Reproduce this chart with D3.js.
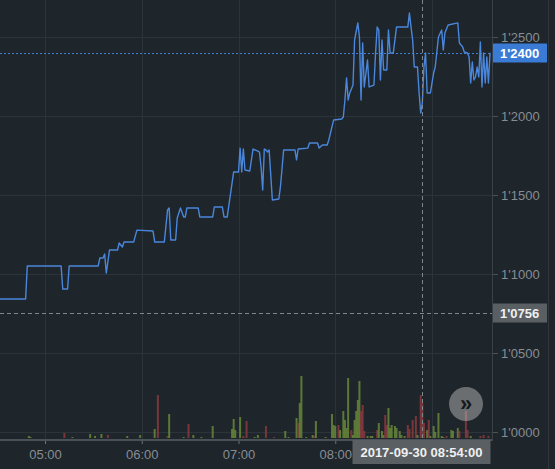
<!DOCTYPE html>
<html>
<head>
<meta charset="utf-8">
<script src="https://cdn.jsdelivr.net/npm/d3@7"></script>
<style>
  body { margin: 0; background: #1e252b; }
  svg { display: block; }
</style>
</head>
<body>
<script>
// price series (time of day, price)
let times = ["04:32","04:48","04:49","05:10","05:11","05:14","05:15","05:33","05:34","05:36",
  "05:37","05:38","05:40","05:45","05:46","05:48","05:49","05:55","05:57","06:07",
  "06:08","06:14","06:16","06:17","06:18","06:21","06:22","06:24","06:26","06:27",
  "06:28","06:35","06:36","06:44","06:45","06:50","06:51","06:53","06:57","07:00",
  "07:01","07:02","07:03","07:04","07:07","07:09","07:12","07:13","07:14","07:15",
  "07:16","07:17","07:18","07:19","07:21","07:25","07:26","07:28","07:35","07:36",
  "07:37","07:43","07:44","07:49","07:50","07:52","07:55","07:56","07:59","08:04",
  "08:05","08:06","08:07","08:08","08:09","08:11","08:12","08:14","08:15","08:16",
  "08:17","08:18","08:20","08:21","08:24","08:25","08:26","08:27","08:28","08:29",
  "08:30","08:32","08:33","08:34","08:36","08:38","08:45","08:46","08:47","08:48",
  "08:49","08:51","08:52","08:53","08:54","08:55","08:56","08:57","08:59","09:01",
  "09:02","09:04","09:06","09:07","09:08","09:10","09:16","09:17","09:19","09:20",
  "09:22","09:23","09:24","09:25","09:26","09:27","09:28","09:29","09:30","09:31",
  "09:32","09:33","09:34","09:35","09:36"];
let prices = [10842,10842,11051,11051,10905,10905,11051,11051,11101,11101,
  11127,11006,11152,11152,11196,11171,11203,11203,11278,11272,
  11203,11203,11405,11418,11215,11215,11354,11418,11361,11361,
  11418,11418,11361,11361,11424,11424,11361,11361,11646,11646,
  11797,11646,11791,11658,11652,11791,11778,11772,11677,11532,
  11791,11785,11772,11785,11468,11475,11551,11785,11785,11722,
  11791,11797,11829,11829,11797,11816,11816,11848,11975,11981,
  11994,12101,12241,12101,12146,12196,12481,12589,12500,12101,
  12462,12184,12354,12184,12196,12399,12563,12544,12228,12481,
  12291,12291,12544,12399,12399,12563,12563,12652,12563,12481,
  12310,12310,12146,12019,12082,12310,12399,12146,12146,12272,
  12310,12500,12544,12418,12525,12576,12589,12462,12437,12405,
  12399,12373,12209,12342,12228,12247,12310,12247,12468,12184,
  12399,12209,12373,12209,12400];

// volume bars (time, volume, direction)
let volTimes = ["04:50","04:51","05:12","05:17","05:28","05:31","05:35","05:39","05:51","05:59",
  "06:08","06:10","06:16","06:17","06:26","06:29","06:32","06:37","06:44","06:56",
  "06:57","06:58","07:01","07:03","07:05","07:10","07:12","07:17","07:22","07:29",
  "07:31","07:36","07:37","07:38","07:39","07:42","07:46","07:47","07:48","07:54",
  "07:58","07:59","08:00","08:02","08:03","08:05","08:06","08:07","08:08","08:10",
  "08:11","08:12","08:13","08:14","08:15","08:16","08:17","08:18","08:20","08:22",
  "08:23","08:26","08:27","08:29","08:30","08:31","08:32","08:33","08:34","08:35",
  "08:37","08:38","08:40","08:41","08:43","08:45","08:46","08:48","08:50","08:51",
  "08:53","08:54","08:55","08:57","08:58","08:59","09:01","09:02","09:04","09:06",
  "09:07","09:09","09:12","09:13","09:16","09:17","09:21","09:22","09:24","09:30",
  "09:32","09:35"];
let volumes = [2,1,5,1,4,2,4,3,2,3,
  9,43,2,24,1,14,3,1,12,9,
  19,8,21,2,17,1,3,12,1,7,
  1,20,15,35,62,1,3,2,17,1,
  24,13,12,13,8,27,18,10,60,8,
  3,18,27,38,57,27,33,7,2,2,
  2,8,15,7,3,23,13,30,10,13,
  12,10,7,3,2,13,9,18,22,3,
  43,35,15,8,18,2,12,6,25,2,
  1,2,8,7,10,7,27,8,2,2,
  3,2];
let volSide = ["u","u","d","u","u","u","u","d","u","u",
  "u","d","d","u","u","d","u","u","u","u",
  "u","u","u","d","d","u","u","d","d","u",
  "u","u","d","u","u","u","u","d","u","u",
  "u","u","u","d","u","u","u","u","u","d",
  "u","u","u","u","u","d","d","d","u","u",
  "u","d","u","u","u","d","d","u","u","u",
  "u","u","u","u","u","d","d","d","d","u",
  "d","d","d","u","d","u","u","u","u","u",
  "u","d","u","u","u","d","d","d","u","d",
  "d","d"];

let priceTicks = [10000, 10500, 11000, 11500, 12000, 12500];
let lastPrice = 12400;
let crossPrice = 10756;
let crossTime = "08:54";
let day = "2017-09-30";

let W = 555, H = 469;
let plotRight = 492, plotBottom = 439;

let parseTime = d3.timeParse("%Y-%m-%d %H:%M");
let t = s => parseTime(day + " " + s);

let x = d3.scaleTime().domain([t("05:00"), t("09:00")]).range([45, 432]);
let y = d3.scaleLinear().domain([10000, 12500]).range([432, 37]);
let v = d3.scaleLinear().domain([0, 100]).range([438, 338]);

let fmtPrice = p => Math.floor(p / 10000) + "'" + String(p % 10000).padStart(4, "0");
let font = "'Liberation Sans', Arial, sans-serif";

let svg = d3.select("body").append("svg")
  .attr("width", W)
  .attr("height", H)
  .style("font-family", font);

svg.append("rect").attr("width", W).attr("height", H).attr("fill", "#1e252b");

svg.append("clipPath").attr("id", "plot")
  .append("rect").attr("width", plotRight).attr("height", plotBottom);

// grid
let hours = x.ticks(d3.timeHour.every(1));
svg.append("g").selectAll("line").data(hours).join("line")
  .attr("x1", d => Math.round(x(d)) + 0.5).attr("x2", d => Math.round(x(d)) + 0.5)
  .attr("y1", 0).attr("y2", plotBottom)
  .attr("stroke", "#2b343b");
svg.append("g").selectAll("line").data(priceTicks).join("line")
  .attr("x1", 0).attr("x2", plotRight)
  .attr("y1", d => Math.round(y(d)) + 0.5).attr("y2", d => Math.round(y(d)) + 0.5)
  .attr("stroke", "#2b343b");

let plot = svg.append("g").attr("clip-path", "url(#plot)");

// volume
let bars = volTimes.map((s, i) => ({ date: t(s), vol: volumes[i], side: volSide[i] }));
plot.append("g").selectAll("rect").data(bars).join("rect")
  .attr("x", d => x(d.date) - 1)
  .attr("width", 2)
  .attr("y", d => v(d.vol))
  .attr("height", d => v(0) - v(d.vol))
  .attr("fill", d => d.side === "u" ? "#66873a" : "#8a3a3e")
  .attr("opacity", 0.85);

// last price line
plot.append("line")
  .attr("x1", 0).attr("x2", plotRight)
  .attr("y1", Math.round(y(lastPrice)) + 0.5).attr("y2", Math.round(y(lastPrice)) + 0.5)
  .attr("stroke", "#3f7fd6").attr("stroke-dasharray", "2,2");

// price line
let series = times.map((s, i) => ({ date: t(s), price: prices[i] }));
let valueline = d3.line()
  .x(d => x(d.date))
  .y(d => y(d.price));
plot.append("path")
  .datum(series)
  .attr("d", valueline)
  .attr("fill", "none")
  .attr("stroke", "#4a87dc")
  .attr("stroke-width", 1.4)
  .attr("stroke-linejoin", "round");

// crosshair
let cx = Math.round(x(t(crossTime))) + 0.5;
let cy = Math.round(y(crossPrice)) + 0.5;
svg.append("line")
  .attr("x1", cx).attr("x2", cx).attr("y1", 0).attr("y2", plotBottom + 4)
  .attr("stroke", "#80868c").attr("stroke-dasharray", "4,3");
svg.append("line")
  .attr("x1", 0).attr("x2", plotRight).attr("y1", cy).attr("y2", cy)
  .attr("stroke", "#80868c").attr("stroke-dasharray", "4,3");

// time axis (label covered by the crosshair box is hidden, as on the chart)
svg.append("line")
  .attr("x1", 0).attr("x2", plotRight).attr("y1", plotBottom + 1).attr("y2", plotBottom + 1)
  .attr("stroke", "#4a5258").attr("stroke-width", 2);
let xAxis = svg.append("g")
  .attr("transform", "translate(0," + (plotBottom + 2) + ")")
  .call(d3.axisBottom(x).ticks(d3.timeHour.every(1)).tickFormat(d3.timeFormat("%H:%M")).tickSize(3));
xAxis.select(".domain").remove();
xAxis.selectAll("line").attr("stroke", "#6d747a");
xAxis.selectAll("text").attr("fill", "#878d93").attr("font-size", 13)
  .attr("font-family", font).attr("dy", "0.95em");
xAxis.selectAll(".tick").filter(d => Math.abs(x(d) - cx) < 60).select("text").remove();

// price axis
svg.append("line")
  .attr("x1", plotRight + 0.5).attr("x2", plotRight + 0.5).attr("y1", 0).attr("y2", plotBottom + 2)
  .attr("stroke", "#3a4248");
svg.append("line")
  .attr("x1", 548.5).attr("x2", 548.5).attr("y1", 0).attr("y2", H)
  .attr("stroke", "#2f373d");
let yAxis = svg.append("g")
  .attr("transform", "translate(" + (plotRight + 1) + ",0)")
  .call(d3.axisRight(y).tickValues(priceTicks).tickFormat(fmtPrice).tickSize(5).tickPadding(3));
yAxis.select(".domain").remove();
yAxis.selectAll("line").attr("stroke", "#4a5258");
yAxis.selectAll("text").attr("fill", "#878d93").attr("font-size", 13).attr("font-family", font);

// price labels
function priceLabel(p, bg, fg) {
  let g = svg.append("g").attr("transform", "translate(" + (plotRight + 1) + "," + Math.round(y(p)) + ")");
  g.append("rect").attr("x", 0).attr("y", -9.5).attr("width", 54).attr("height", 19).attr("fill", bg);
  g.append("text").attr("x", 7).attr("dy", "0.36em").attr("fill", fg)
    .attr("font-size", 13).attr("font-weight", "bold").text(fmtPrice(p));
}
priceLabel(lastPrice, "#3a7bd5", "#ffffff");
priceLabel(crossPrice, "#5a5f63", "#f0f0f0");

// time label
let tg = svg.append("g").attr("transform", "translate(" + cx + "," + (plotBottom + 1) + ")");
tg.append("rect").attr("x", -70).attr("y", 0).attr("width", 138).attr("height", 24).attr("fill", "#5a5f63");
tg.append("text").attr("x", -1).attr("y", 17).attr("text-anchor", "middle")
  .attr("fill", "#f0f0f0").attr("font-size", 13).attr("font-weight", "bold")
  .text(day + " " + crossTime + ":00");

// scroll button
let btn = svg.append("g").attr("transform", "translate(466,404)");
btn.append("circle").attr("r", 17).attr("fill", "#c8c8c8").attr("opacity", 0.45);
btn.append("text").attr("text-anchor", "middle").attr("dy", "0.33em")
  .attr("fill", "#15191d").attr("font-size", 22).attr("font-weight", "bold").text("»");
</script>
</body>
</html>
